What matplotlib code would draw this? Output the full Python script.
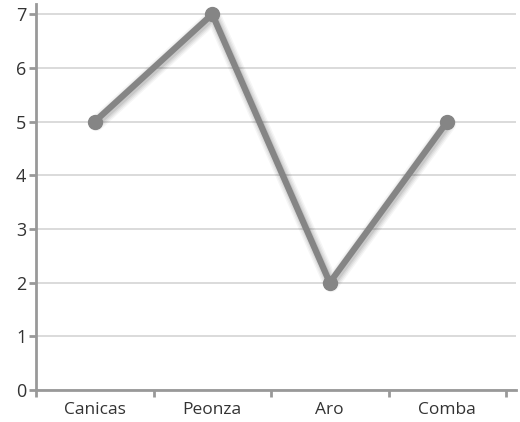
import matplotlib
matplotlib.use("Agg")
import matplotlib.pyplot as plt
import matplotlib.transforms as mtransforms
import numpy as np

# Data
categories = ["Canicas", "Peonza", "Aro", "Comba"]
values = [5, 7, 2, 5]
y_ticks = [0, 1, 2, 3, 4, 5, 6, 7]

plt.rcParams['font.family'] = ['Open Sans', 'DejaVu Sans']

fig = plt.figure(figsize=(5.2, 4.22), dpi=100)
ax = fig.add_axes([36/520, 1 - 390/422, (516 - 36)/520, (390 - 4)/422])

x = np.arange(len(categories))

# soft shadow: a few wide translucent lines shifted down-right
shift = mtransforms.offset_copy(ax.transData, fig=fig, x=1.5, y=-2, units='dots')
for w, a in [(11, 0.04), (9, 0.05), (7, 0.06), (5, 0.08)]:
    ax.plot(x, values, color='black', lw=w, alpha=a, solid_capstyle='round',
            solid_joinstyle='round', transform=shift, zorder=2)

ax.plot(x, values, color='#858585', lw=4.5, marker='o', markersize=10,
        solid_capstyle='round', solid_joinstyle='round', zorder=3)

ax.set_xlim(-0.5, 3.585)
ax.set_ylim(0, 7.19)
ax.set_yticks(y_ticks)
ax.yaxis.grid(True, color='#d4d4d4', lw=1.2)
ax.set_axisbelow(True)

ax.set_xticks(np.arange(-0.5, 4, 1))
ax.set_xticklabels([])
ax.set_xticks(x, minor=True)
ax.set_xticklabels(categories, minor=True)
ax.tick_params(axis='x', which='minor', length=0, pad=9, labelsize=12.5, labelcolor='#333333')
ax.tick_params(axis='x', which='major', length=5, width=2, color='#999999')
ax.tick_params(axis='y', length=5, width=2, color='#999999', labelsize=13,
               labelcolor='#333333', pad=2)

for s in ['top', 'right']:
    ax.spines[s].set_visible(False)
for s in ['left', 'bottom']:
    ax.spines[s].set_color('#999999')
    ax.spines[s].set_linewidth(2)

fig.savefig("out.png", dpi=100)
